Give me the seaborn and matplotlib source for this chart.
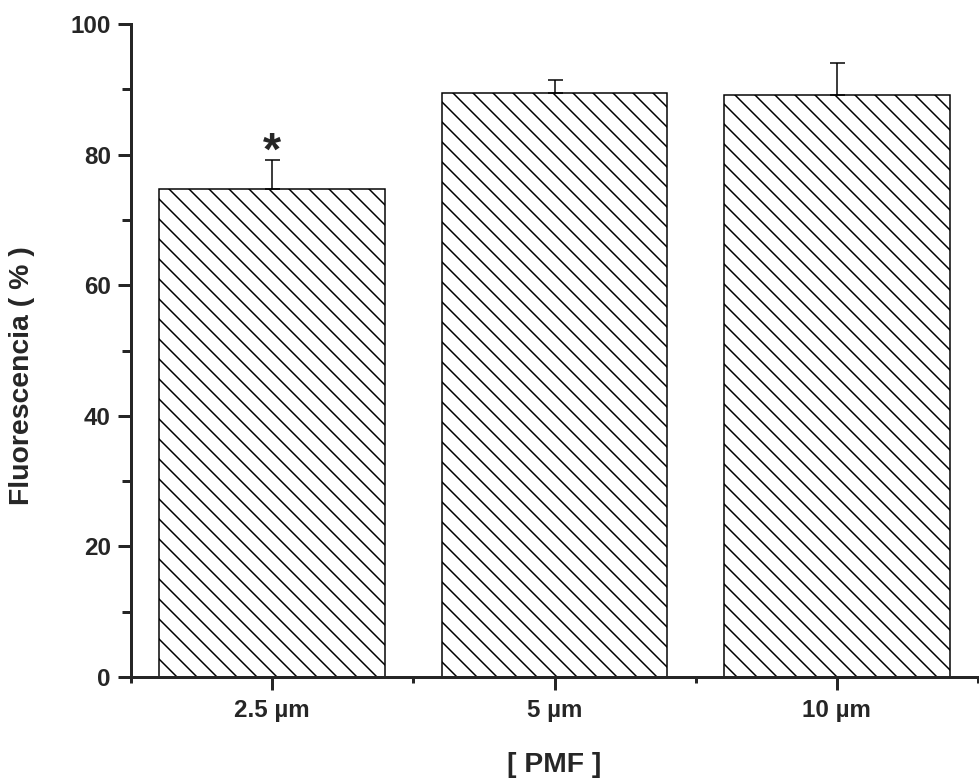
import matplotlib
matplotlib.use("Agg")
import matplotlib.pyplot as plt
import seaborn as sns
from matplotlib.ticker import MultipleLocator

concentrations = ["2.5 µm", "5 µm", "10 µm"]
fluorescence = [74.8, 89.4, 89.2]
error_up = [4.4, 2.1, 4.8]

sns.set_style("ticks")
plt.rcParams["font.family"] = ["Liberation Sans", "DejaVu Sans"]
plt.rcParams["font.weight"] = "bold"
plt.rcParams["hatch.linewidth"] = 0.9

fig = plt.figure(figsize=(979 / 120, 781 / 120), dpi=120)
ax = fig.add_axes([131 / 979, 1 - 677 / 781, 847 / 979, 653 / 781])

sns.barplot(x=concentrations, y=fluorescence, color="white", edgecolor="black",
            linewidth=0.9, hatch="\\\\", width=0.8, errorbar=None, ax=ax)
ax.errorbar(range(len(concentrations)), fluorescence,
            yerr=[[0] * len(error_up), error_up], fmt="none",
            ecolor="black", elinewidth=0.9, capsize=4.5, capthick=0.9, zorder=1)

# significance mark
ax.text(0, 78.5, "*", ha="center", va="baseline", fontsize=28, fontweight="bold")

ax.set_xlim(-0.5, 2.5)
ax.set_ylim(0, 100)
ax.yaxis.set_major_locator(MultipleLocator(20))
ax.yaxis.set_minor_locator(MultipleLocator(10))
ax.set_xticks([0, 1, 2], minor=False)
ax.set_xticks([-0.5, 0.5, 1.5, 2.5], minor=True)

for side in ["top", "right"]:
    ax.spines[side].set_visible(False)
for side in ["left", "bottom"]:
    ax.spines[side].set_linewidth(1.8)

ax.tick_params(axis="both", which="major", direction="out", length=8, width=1.8,
               labelsize=14.5)
ax.tick_params(axis="y", which="major", pad=4)
ax.tick_params(axis="x", which="major", pad=5)
ax.tick_params(axis="y", which="minor", direction="out", length=5.5, width=1.8)
ax.tick_params(axis="x", which="minor", direction="out", length=3.5, width=1.8)
for lab in ax.get_xticklabels() + ax.get_yticklabels():
    lab.set_fontweight("bold")

ax.set_ylabel("Fluorescencia ( % )", fontsize=17, fontweight="bold")
ax.set_xlabel("[ PMF ]", fontsize=17, fontweight="bold")
ax.yaxis.set_label_coords(-0.113, 0.461)
ax.xaxis.set_label_coords(0.5, -0.115)

fig.savefig("out.png", dpi=120)
